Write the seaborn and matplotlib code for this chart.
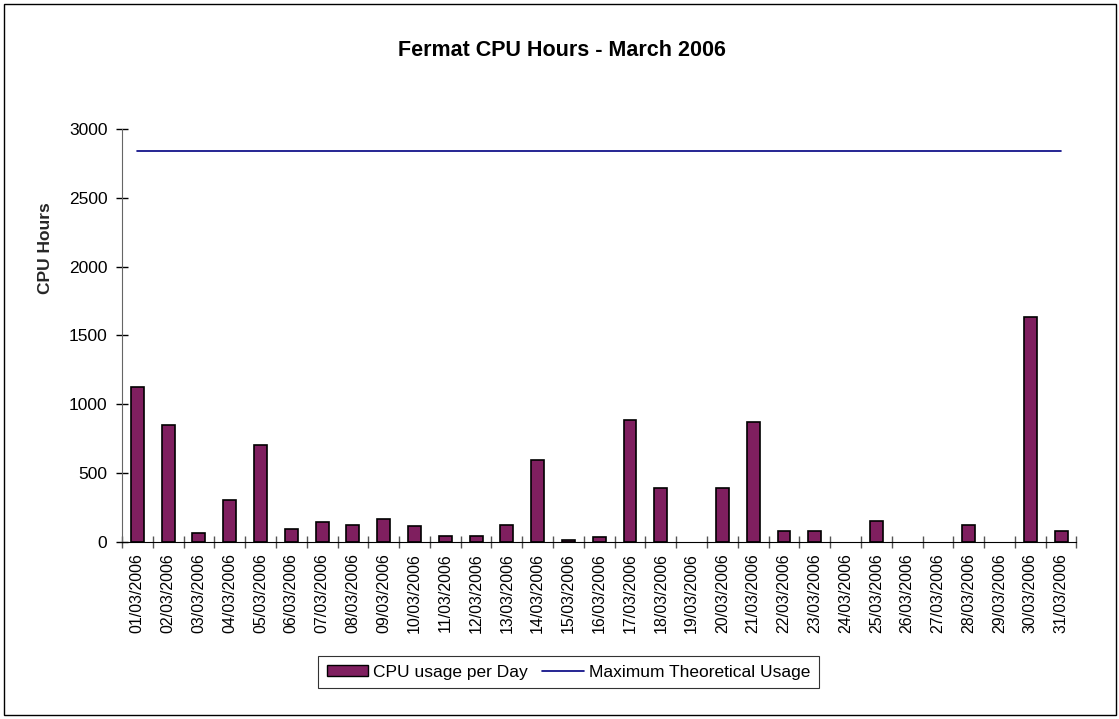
import numpy as np
import pandas as pd
import matplotlib
matplotlib.use("Agg")
import matplotlib.pyplot as plt
import seaborn as sns
from matplotlib.patches import Rectangle, Patch
from matplotlib.lines import Line2D
from matplotlib.ticker import FixedLocator

# data
days = ['%02d/03/2006' % d for d in range(1, 32)]
cpu_hours = [1126, 852, 63, 307, 707, 92, 143, 121, 165, 114,
             41, 41, 121, 593, 12, 34, 889, 390, 0, 390,
             872, 82, 82, 0, 153, 0, 0, 123, 0, 1630, 82]
max_usage = [2835] * 31

df = pd.DataFrame({'day': days, 'hours': cpu_hours, 'max': max_usage})

sns.set_style('white')
plt.rcParams['font.family'] = ['Liberation Sans', 'DejaVu Sans']
plt.rcParams['text.color'] = 'black'
plt.rcParams['xtick.color'] = 'black'
plt.rcParams['ytick.color'] = 'black'

fig = plt.figure(figsize=(11.19, 7.19), dpi=100)
ax = fig.add_axes([0.109, 0.246, 0.853, 0.575])

bar_col = '#7f1f5f'
line_col = '#000080'
sns.barplot(data=df, x='day', y='hours', color=bar_col, width=0.42,
            edgecolor='black', linewidth=1.2, saturation=1, ax=ax)
# empty days show no bar at all
for p in ax.patches:
    if p.get_height() == 0:
        p.set_linewidth(0)
ax.plot(np.arange(len(days)), df['max'], color=line_col, linewidth=1.2)

ax.set_xlim(-0.5, len(days) - 0.5)
ax.set_ylim(0, 3000)
ax.set_yticks(np.arange(0, 3001, 500))
ax.tick_params(axis='y', labelsize=12.5, length=9, direction='inout', left=True, width=1, pad=6)
ax.tick_params(axis='x', labelsize=11.5, length=0, rotation=90, pad=8)
ax.xaxis.set_minor_locator(FixedLocator(np.arange(-0.5, len(days), 1)))
ax.tick_params(axis='x', which='minor', bottom=True, length=8, direction='inout', width=1, color='#555555')

for s in ['top', 'right']:
    ax.spines[s].set_visible(False)
ax.spines['left'].set_color('#666666')
ax.spines['bottom'].set_color('black')
ax.grid(False)

ax.set_xlabel('')
ax.set_ylabel('CPU Hours', fontsize=12.5, fontweight='bold')
ax.yaxis.set_label_coords(-0.072, 0.71)
fig.text(0.502, 0.93, 'Fermat CPU Hours - March 2006', ha='center', va='center',
         fontsize=15.5, fontweight='bold')

handles = [Patch(facecolor=bar_col, edgecolor='black', linewidth=1),
           Line2D([], [], color=line_col, linewidth=1.2)]
leg = fig.legend(handles, ['CPU usage per Day', 'Maximum Theoretical Usage'],
                 loc='center', bbox_to_anchor=(0.508, 0.065), ncol=2, fontsize=12.5,
                 frameon=True, fancybox=False, edgecolor='black', columnspacing=0.8,
                 handlelength=2.4, handleheight=0.6, handletextpad=0.3, borderpad=0.5)
leg.get_frame().set_linewidth(0.8)

fig.patches.append(Rectangle((0.004, 0.005), 0.993, 0.99, transform=fig.transFigure,
                             fill=False, edgecolor='black', linewidth=1))

fig.savefig('out.png', dpi=100)
